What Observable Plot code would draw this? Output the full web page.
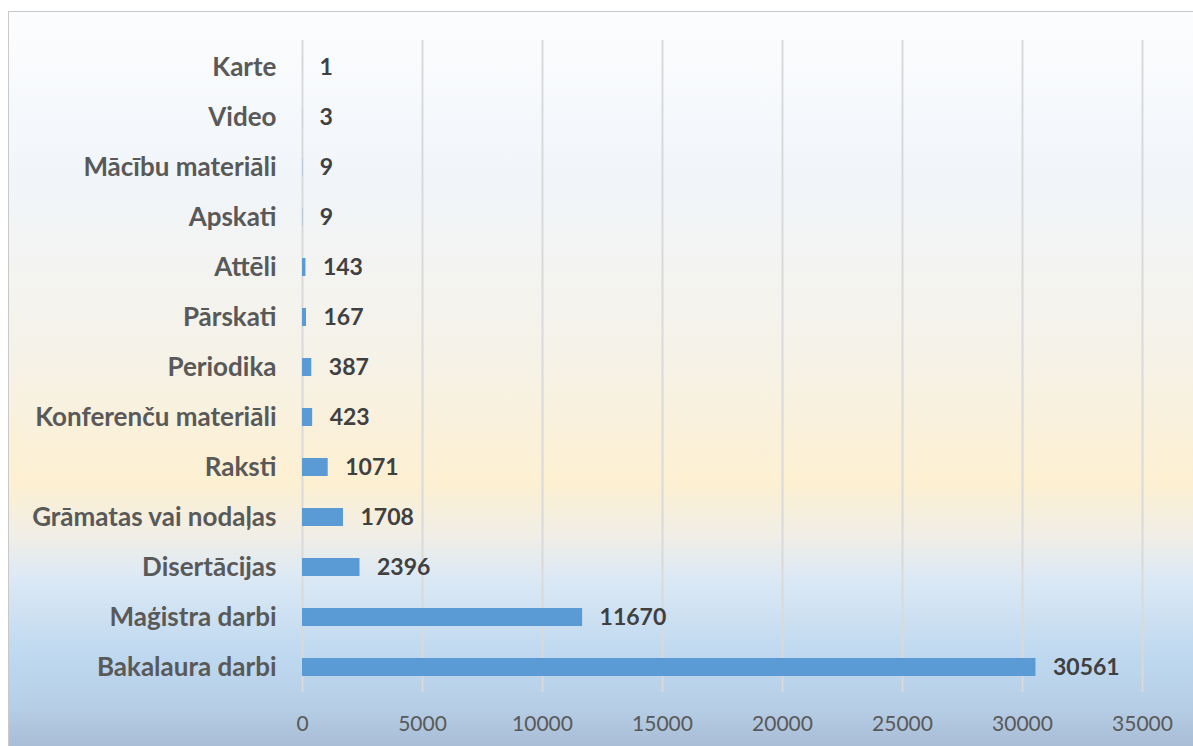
<!DOCTYPE html>
<html>
<head>
<meta charset="utf-8">
<script src="https://cdn.jsdelivr.net/npm/d3@7"></script>
<script src="https://cdn.jsdelivr.net/npm/@observablehq/plot@0.6"></script>
<style>
  html, body { margin: 0; padding: 0; background: #ffffff; }
  #wrap { position: relative; width: 1193px; height: 746px; overflow: hidden; }
  #bg {
    position: absolute; left: 8px; top: 11px; width: 1200px; height: 760px;
    border-left: 1.5px solid #c9c9c9; border-top: 1.5px solid #c9c9c9;
    background: linear-gradient(to bottom,
      #fcfdfe 0px, #f1f5fa 170px, #f5f2e8 340px, #fdf0d2 470px,
      #f0eee6 525px, #dce9f5 565px, #bed8ef 645px, #b7d0e8 690px, #a9bdd5 735px);
  }
  #chart { position: absolute; left: 0; top: 0; }
</style>
</head>
<body>
<div id="wrap"><div id="bg"></div><div id="chart"></div></div>
<script>
const categories = ["Karte", "Video", "Mācību materiāli", "Apskati", "Attēli", "Pārskati", "Periodika",
  "Konferenču materiāli", "Raksti", "Grāmatas vai nodaļas", "Disertācijas", "Maģistra darbi", "Bakalaura darbi"];
const counts = [1, 3, 9, 9, 143, 167, 387, 423, 1071, 1708, 2396, 11670, 30561];
const xTicks = [0, 5000, 10000, 15000, 20000, 25000, 30000, 35000];

const data = categories.map((c, i) => ({category: c, value: counts[i]}));
const font = "Lato, 'Open Sans', sans-serif";

const plot = Plot.plot({
  width: 1193,
  height: 746,
  marginLeft: 302,
  marginRight: 51,
  marginTop: 40,
  marginBottom: 52,
  style: {background: "transparent", fontFamily: font},
  x: {domain: [0, 35000], ticks: xTicks, tickFormat: d => String(d), label: null},
  y: {domain: categories, paddingInner: 0.64, paddingOuter: 0.36, round: false, label: null},
  marks: [
    Plot.ruleX(xTicks, {stroke: "#d9d9d9", strokeWidth: 2, insetBottom: 2}),
    Plot.barX(data, {x: "value", y: "category", fill: "#5b9bd5"}),
    Plot.text(data, {x: "value", y: "category", text: d => String(d.value), dx: 17, textAnchor: "start",
      fill: "#404040", fontWeight: "bold", fontSize: 23}),
    Plot.axisX({ticks: xTicks, tickFormat: d => String(d), tickSize: 0, tickPadding: 22, fontSize: 21,
      color: "#595959", label: null}),
    Plot.axisY({tickSize: 0, tickPadding: 26, fontSize: 26, fontWeight: "bold", color: "#595959", label: null})
  ]
});
document.getElementById("chart").appendChild(plot);
</script>
</body>
</html>
